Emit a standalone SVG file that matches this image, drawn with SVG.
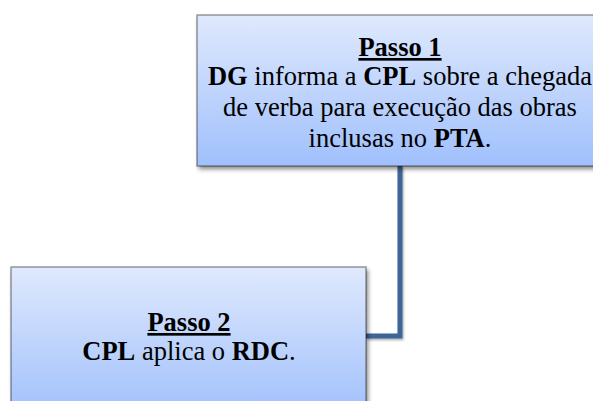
<svg xmlns="http://www.w3.org/2000/svg" width="593" height="401" viewBox="0 0 593 401">
  <defs>
    <linearGradient id="boxFill" x1="0" y1="0" x2="0" y2="1">
      <stop offset="0" stop-color="#dfe9fd"/>
      <stop offset="1" stop-color="#a0c0fc"/>
    </linearGradient>
    <filter id="shadow" x="-10%" y="-10%" width="120%" height="130%">
      <feDropShadow dx="2" dy="3" stdDeviation="2" flood-color="#000" flood-opacity="0.45"/>
    </filter>
    <filter id="lineShadow" x="-20%" y="-20%" width="140%" height="140%">
      <feDropShadow dx="1" dy="1.5" stdDeviation="1" flood-color="#000" flood-opacity="0.35"/>
    </filter>
  </defs>
  <style>
    .box { fill: url(#boxFill); stroke: #000; stroke-opacity: 0.38; stroke-width: 1.5; filter: url(#shadow); }
    .label { font-family: "Liberation Serif", "Times New Roman", serif; font-size: 26.5px; fill: #000; text-anchor: middle; }
    .b { font-weight: bold; }
    .title { font-weight: bold; text-decoration: underline; }
    .link { fill: none; stroke: #3c6597; stroke-width: 5; stroke-linejoin: miter; filter: url(#lineShadow); }
  </style>

  <rect width="593" height="401" fill="#ffffff"/>

  <!-- elbow connector from Passo 1 down to Passo 2 -->
  <g id="connectors">
    <path class="link" d="M400 166 V336 H366"/>
  </g>

  <g id="passo1">
    <rect class="box" x="197" y="15" width="410" height="151"/>
    <text class="label" x="400" y="56"><tspan class="title">Passo 1</tspan></text>
    <text class="label" x="400" y="85"><tspan class="b">DG</tspan> informa a <tspan class="b">CPL</tspan> sobre a chegada</text>
    <text class="label" x="400" y="116">de verba para execução das obras</text>
    <text class="label" x="400" y="147">inclusas no <tspan class="b">PTA</tspan>.</text>
  </g>

  <g id="passo2">
    <rect class="box" x="11" y="267" width="355" height="150"/>
    <text class="label" x="189" y="331"><tspan class="title">Passo 2</tspan></text>
    <text class="label" x="189" y="360"><tspan class="b">CPL</tspan> aplica o <tspan class="b">RDC</tspan>.</text>
  </g>
</svg>
